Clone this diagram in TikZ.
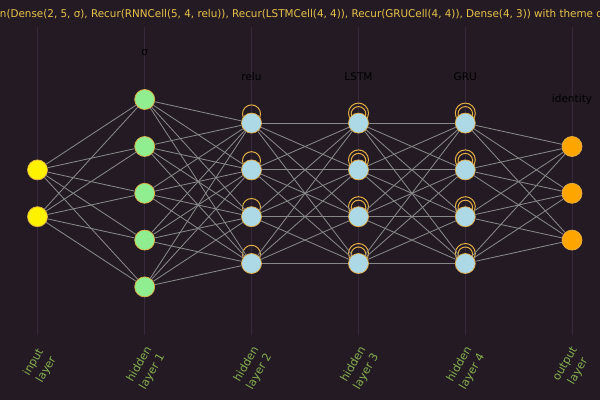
\documentclass[tikz,border=0pt]{standalone}
\usepackage{fontspec}
\setmainfont{DejaVu Sans}
\definecolor{bgdark}{HTML}{231A24}
\definecolor{gridline}{HTML}{36283A}
\definecolor{edgegray}{HTML}{888888}
\definecolor{ringgold}{HTML}{E3AE45}
\definecolor{titleyellow}{HTML}{E8C24A}
\definecolor{labelgreen}{HTML}{86B04E}
\definecolor{lightgreen}{HTML}{90EE90}
\definecolor{lightblue}{HTML}{ADD8E6}
\definecolor{outorange}{HTML}{FFA500}
\pgfdeclarelayer{background}
\pgfsetlayers{background,main}

\begin{document}
\begin{tikzpicture}[x=0.025cm,y=-0.025cm,
  neuron/.style={circle,draw=ringgold,line width=0.5pt,minimum size=0.5cm,inner sep=0pt},
  synapse/.style={edgegray,line width=0.6pt},
  layername/.style={rotate=60,align=center,labelgreen,font=\fontsize{8}{10.5}\selectfont},
  actname/.style={black,font=\fontsize{7.5}{9}\selectfont},
  selfloop/.style={ringgold,line width=0.7pt}]
\useasboundingbox (0,0) rectangle (600,400);
\clip (0,0) rectangle (600,400);

\node[anchor=west,titleyellow,font=\fontsize{7.6}{9}\selectfont] (title) at (-5,14)
  {\scalebox{0.972}[1]{n(Dense(2, 5, σ), Recur(RNNCell(5, 4, relu)), Recur(LSTMCell(4, 4)), Recur(GRUCell(4, 4)), Dense(4, 3)) with theme d}};

% input layer
\node (in1) at (37.5,169.9) [neuron,fill=yellow]{};
\node (in2) at (37.5,216.7) [neuron,fill=yellow]{};
% hidden layer 1
\node (a1) at (144.7,99.5) [neuron,fill=lightgreen]{};
\node (a2) at (144.7,146.5) [neuron,fill=lightgreen]{};
\node (a3) at (144.7,193.3) [neuron,fill=lightgreen]{};
\node (a4) at (144.7,240.1) [neuron,fill=lightgreen]{};
\node (a5) at (144.7,286.9) [neuron,fill=lightgreen]{};
% hidden layers 2 to 4
\foreach \n/\x in {b/251.5,c/358.5,d/465.3}{
  \node (\n1) at (\x,123.1) [neuron,fill=lightblue]{};
  \node (\n2) at (\x,169.9) [neuron,fill=lightblue]{};
  \node (\n3) at (\x,216.7) [neuron,fill=lightblue]{};
  \node (\n4) at (\x,263.5) [neuron,fill=lightblue]{};
}
% output layer
\node (o1) at (572,146.5) [neuron,fill=outorange]{};
\node (o2) at (572,193.3) [neuron,fill=outorange]{};
\node (o3) at (572,240.1) [neuron,fill=outorange]{};

\begin{pgfonlayer}{background}
\fill[bgdark] (0,0) rectangle (600,400);
\foreach \x in {37.5,144.7,251.5,358.5,465.3,572}
  \draw[gridline,line width=0.5pt] (\x,27)--(\x,335);
\foreach \k in {1,...,4}{
  \draw[selfloop] ([yshift=0.23cm]b\k.center) circle[radius=9];
  \draw[selfloop] ([yshift=0.25cm]c\k.center) circle[radius=10];
  \draw[selfloop] ([yshift=0.23cm]c\k.center) circle[radius=7.3];
  \draw[selfloop] ([yshift=0.25cm]d\k.center) circle[radius=10];
  \draw[selfloop] ([yshift=0.23cm]d\k.center) circle[radius=7.3];
}
\end{pgfonlayer}

\foreach \i in {1,2}
  \foreach \j in {1,...,5} \draw[synapse] (in\i)--(a\j);
\foreach \i in {1,...,5}
  \foreach \j in {1,...,4} \draw[synapse] (a\i)--(b\j);
\foreach \i in {1,...,4}
  \foreach \j in {1,...,4} {\draw[synapse] (b\i)--(c\j); \draw[synapse] (c\i)--(d\j);}
\foreach \i in {1,...,4}
  \foreach \j in {1,...,3} \draw[synapse] (d\i)--(o\j);

\node[actname] (fa) at (144.7,53) {σ};
\node[actname] (fb) at (251.5,77) {relu};
\node[actname] (fc) at (358.5,77) {LSTM};
\node[actname] (fd) at (465.3,77) {GRU};
\node[actname] (fo) at (572,100) {identity};

\node[layername] (la) at (40,366) {input\\layer};
\node[layername] (lb) at (146,368) {hidden\\layer 1};
\node[layername] (lc) at (253,368) {hidden\\layer 2};
\node[layername] (ld) at (360,368) {hidden\\layer 3};
\node[layername] (le) at (466,368) {hidden\\layer 4};
\node[layername] (lf) at (572,368) {output\\layer};
\end{tikzpicture}
\end{document}
